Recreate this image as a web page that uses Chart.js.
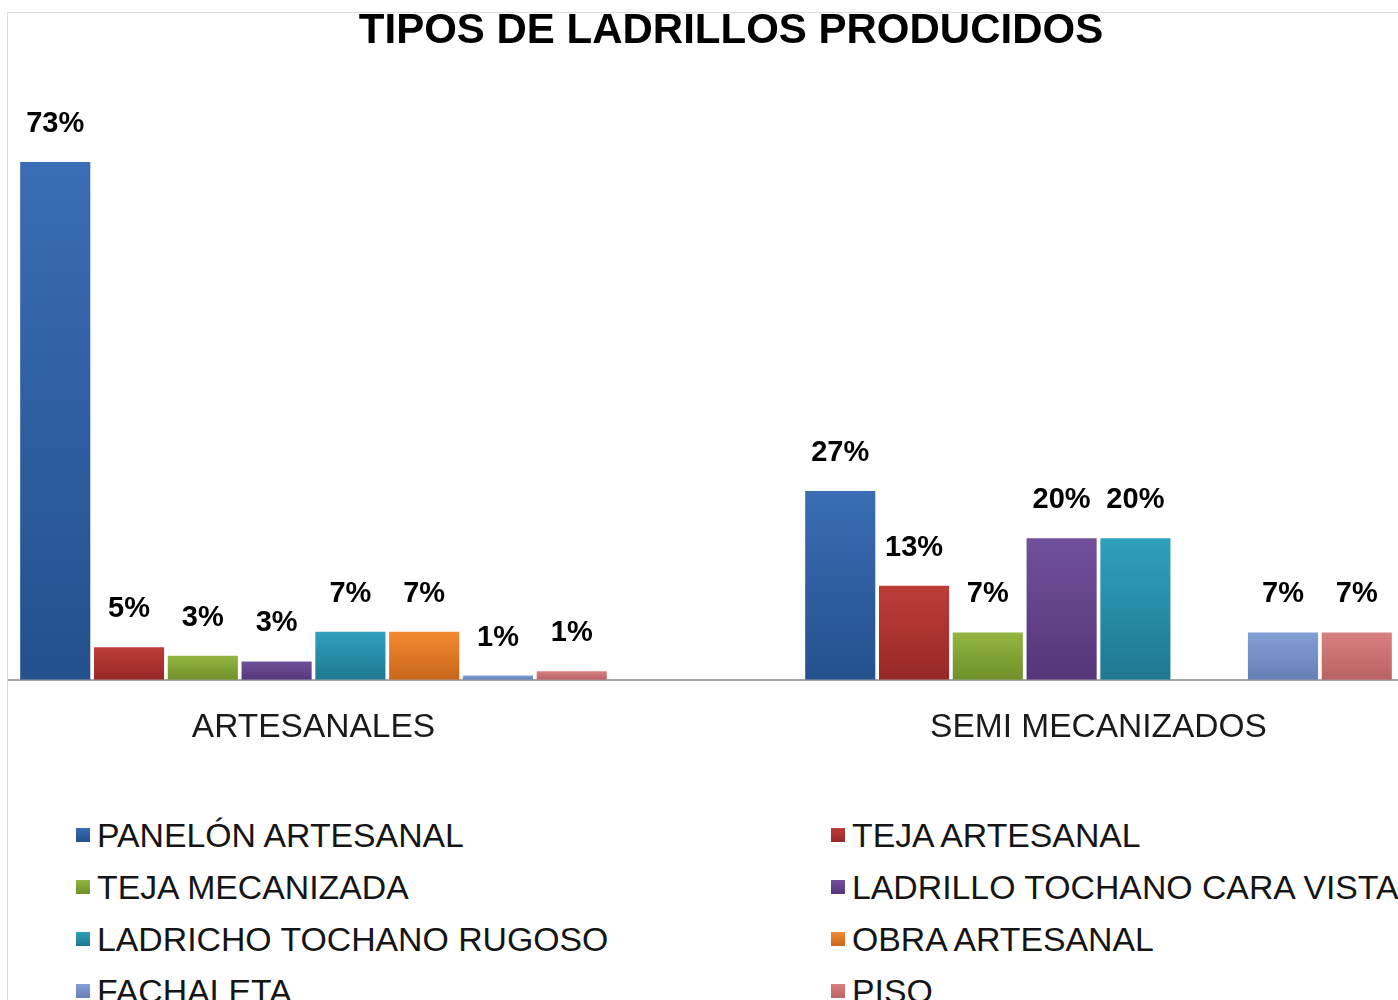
<!DOCTYPE html>
<html>
<head>
<meta charset="utf-8">
<script src="https://cdn.jsdelivr.net/npm/chart.js@4.4.1/dist/chart.umd.min.js"></script>
<style>
html,body{margin:0;padding:0;background:#fff;overflow:hidden;width:1398px;height:1000px;position:relative;}
#frameL{position:absolute;left:7px;top:12px;width:1px;height:988px;background:#dcdcdc;}
#frameT{position:absolute;left:7px;top:12px;width:1391px;height:1px;background:#dcdcdc;}
#clip{position:absolute;left:8px;top:13px;width:1390px;height:800px;overflow:hidden;}
#c{position:absolute;left:-87px;top:0;}
#title{position:absolute;left:0;top:8px;width:1462px;text-align:center;font:bold 42px 'Liberation Sans',Arial,sans-serif;line-height:42px;color:#000;white-space:nowrap;}
.leg{position:absolute;font:33.8px 'Liberation Sans',Arial,sans-serif;line-height:52px;height:52px;white-space:nowrap;color:#151515;padding-left:21px;}
.box{position:absolute;left:0;width:14px;height:14px;top:19px;}
</style>
</head>
<body>
<div id="frameL"></div>
<div id="frameT"></div>
<div id="clip"><canvas id="c" width="1570" height="771" style="width:1570px;height:771px;"></canvas></div>
<div id="title">TIPOS DE LADRILLOS PRODUCIDOS</div>
<div id="legend"></div>
<script>
// ---- data ----
const categories = ['ARTESANALES', 'SEMI MECANIZADOS'];
const seriesNames = [
  'PANELÓN ARTESANAL',
  'TEJA ARTESANAL',
  'TEJA MECANIZADA',
  'LADRILLO TOCHANO CARA VISTA',
  'LADRICHO TOCHANO RUGOSO',
  'OBRA ARTESANAL',
  'FACHALETA',
  'PISO'
];
const panelonArtesanal        = [73.2, 26.7];
const tejaArtesanal           = [4.6, 13.3];
const tejaMecanizada          = [3.4, 6.7];
const ladrilloTochanoCaraVista= [2.6, 20.0];
const ladrichoTochanoRugoso   = [6.8, 20.0];
const obraArtesanal           = [6.8, null];
const fachaleta               = [0.6, 6.7];
const piso                    = [1.2, 6.7];
const seriesValues = [panelonArtesanal, tejaArtesanal, tejaMecanizada, ladrilloTochanoCaraVista,
  ladrichoTochanoRugoso, obraArtesanal, fachaleta, piso];

// ---- styles ----
const topColors    = ['#3A6DB5','#BE3D38','#93B641','#71509B','#2FA0BD','#F28A30','#829FD6','#D98082'];
const bottomColors = ['#24508D','#962827','#6E912A','#553679','#1F7891','#C9661A','#6580B6','#B96163'];
const FONT = "'Liberation Sans', Arial, sans-serif";

function barGradient(i) {
  return function(ctx) {
    const chart = ctx.chart;
    const y = chart.scales && chart.scales.y;
    if (!y || !chart.chartArea || ctx.raw == null) return topColors[i];
    const t = y.getPixelForValue(ctx.raw);
    const b = y.getPixelForValue(0);
    if (!isFinite(t) || !isFinite(b) || b - t < 1) return topColors[i];
    const g = chart.ctx.createLinearGradient(0, t, 0, b);
    g.addColorStop(0, topColors[i]);
    g.addColorStop(1, bottomColors[i]);
    return g;
  };
}

const valueLabels = {
  id: 'valueLabels',
  afterDatasetsDraw(chart) {
    const ctx = chart.ctx;
    ctx.save();
    ctx.font = 'bold 29px ' + FONT;
    ctx.fillStyle = '#000';
    ctx.textAlign = 'center';
    ctx.textBaseline = 'alphabetic';
    chart.data.datasets.forEach((ds, i) => {
      const meta = chart.getDatasetMeta(i);
      meta.data.forEach((el, j) => {
        const v = ds.data[j];
        if (v == null) return;
        ctx.fillText(Math.round(v) + '%', el.x, el.y - 30);
      });
    });
    ctx.restore();
  }
};

const datasets = seriesNames.map((name, i) => ({
  label: name,
  data: seriesValues[i],
  backgroundColor: barGradient(i),
  borderWidth: 0,
  categoryPercentage: 0.752,
  barPercentage: 0.95
}));

new Chart(document.getElementById('c'), {
  type: 'bar',
  data: { labels: categories, datasets: datasets },
  options: {
    responsive: false,
    animation: false,
    devicePixelRatio: 1,
    layout: { padding: { top: 101, bottom: 8, left: 0, right: 0 } },
    plugins: {
      legend: { display: false },
      title: { display: false },
      tooltip: { enabled: false }
    },
    scales: {
      x: {
        offset: true,
        grid: { display: false, drawTicks: false },
        border: { display: true, color: '#A6A6A6', width: 2 },
        ticks: {
          color: '#1a1a1a',
          font: { family: FONT, size: 33.5 },
          padding: 28,
          maxRotation: 0,
          autoSkip: false
        }
      },
      y: {
        display: false,
        min: 0,
        max: 80
      }
    }
  },
  plugins: [valueLabels]
});

// ---- legend (two columns, row-major) ----
const legend = document.getElementById('legend');
const colX = [76, 831];
const rowTop = [809, 861, 913, 965];
seriesNames.forEach((name, i) => {
  const d = document.createElement('div');
  d.className = 'leg';
  d.style.left = colX[i % 2] + 'px';
  d.style.top = rowTop[Math.floor(i / 2)] + 'px';
  const b = document.createElement('span');
  b.className = 'box';
  b.style.background = 'linear-gradient(' + topColors[i] + ',' + bottomColors[i] + ')';
  d.appendChild(b);
  d.appendChild(document.createTextNode(name));
  legend.appendChild(d);
});
</script>
</body>
</html>
